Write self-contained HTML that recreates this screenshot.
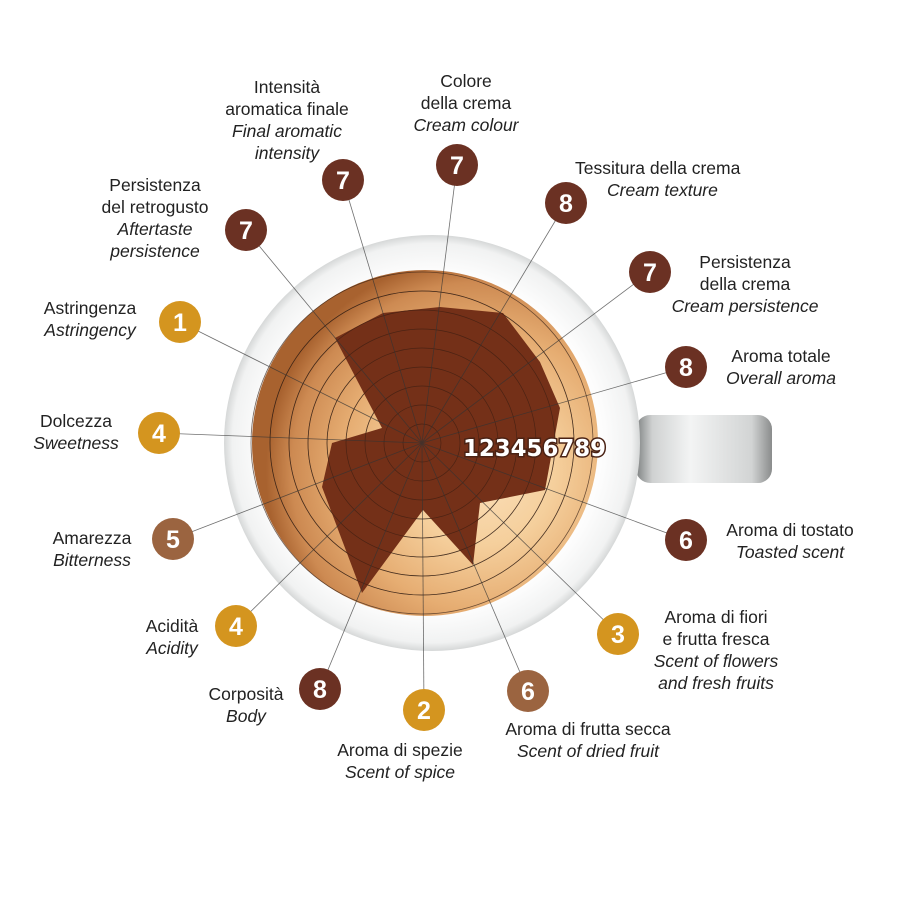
<!DOCTYPE html>
<html><head><meta charset="utf-8"><style>
body{margin:0;background:#fff;}
#w{position:relative;width:900px;height:900px;overflow:hidden;font-family:"Liberation Sans",sans-serif;color:#222;}
.t{position:absolute;font-size:17.5px;line-height:22px;text-align:center;white-space:nowrap;}
.t i{display:block;}
.l{text-align:left}.r{text-align:right}
</style></head><body><div id="w">
<svg width="900" height="900" style="position:absolute;left:0;top:0">
<defs>
<radialGradient id="cup" cx="0.5" cy="0.5" r="0.5">
<stop offset="0.82" stop-color="#fdfdfd"/><stop offset="0.96" stop-color="#f1f2f2"/><stop offset="1" stop-color="#d6d8d8"/>
</radialGradient>
<radialGradient id="cof" cx="0.66" cy="0.58" r="0.62">
<stop offset="0" stop-color="#fbe0bb"/><stop offset="0.35" stop-color="#f5cf9c"/><stop offset="0.65" stop-color="#e6ad72"/><stop offset="0.88" stop-color="#cd8a52"/><stop offset="1" stop-color="#a8622f"/>
</radialGradient>
<linearGradient id="hd" x1="0" y1="0" x2="1" y2="0">
<stop offset="0" stop-color="#7e8181"/><stop offset="0.12" stop-color="#cfd1d1"/><stop offset="0.4" stop-color="#f3f4f4"/><stop offset="0.85" stop-color="#d2d4d4"/><stop offset="1" stop-color="#8a8c8c"/>
</linearGradient>
</defs>
<rect x="636" y="415" width="136" height="68" rx="14" fill="url(#hd)"/>
<circle cx="432" cy="443" r="208" fill="url(#cup)"/>
<circle cx="425" cy="443" r="173" fill="url(#cof)"/>
<g fill="none" stroke="#3a2418" stroke-width="0.8" opacity="0.7">
<circle cx="422" cy="443" r="19"/><circle cx="422" cy="443" r="38"/><circle cx="422" cy="443" r="57"/><circle cx="422" cy="443" r="76"/><circle cx="422" cy="443" r="95"/><circle cx="422" cy="443" r="114"/><circle cx="422" cy="443" r="133"/><circle cx="422" cy="443" r="152"/><circle cx="422" cy="443" r="171"/>
</g>
<polygon points="383,313 440,307 503,313 540,362 560,408 545,490 480,503 473,565 423,510 362,593 322,487 332,443 382,428 335,338" fill="#743018"/>
<g fill="none" stroke="#2a1810" stroke-width="0.7" opacity="0.55">
<circle cx="422" cy="443" r="19"/><circle cx="422" cy="443" r="38"/><circle cx="422" cy="443" r="57"/><circle cx="422" cy="443" r="76"/><circle cx="422" cy="443" r="95"/><circle cx="422" cy="443" r="114"/><circle cx="422" cy="443" r="133"/><circle cx="422" cy="443" r="152"/>
</g>
<g stroke="#333" stroke-width="0.8" opacity="0.7">
<line x1="422" y1="443" x2="343" y2="180"/>
<line x1="422" y1="443" x2="457" y2="165"/>
<line x1="422" y1="443" x2="566" y2="203"/>
<line x1="422" y1="443" x2="650" y2="272"/>
<line x1="422" y1="443" x2="686" y2="367"/>
<line x1="422" y1="443" x2="686" y2="540"/>
<line x1="422" y1="443" x2="618" y2="634"/>
<line x1="422" y1="443" x2="528" y2="691"/>
<line x1="422" y1="443" x2="424" y2="710"/>
<line x1="422" y1="443" x2="320" y2="689"/>
<line x1="422" y1="443" x2="236" y2="626"/>
<line x1="422" y1="443" x2="173" y2="539"/>
<line x1="422" y1="443" x2="159" y2="433"/>
<line x1="422" y1="443" x2="180" y2="322"/>
<line x1="422" y1="443" x2="246" y2="230"/>
</g>
<text x="463" y="456" font-family="DejaVu Sans" font-size="23" font-weight="bold" fill="#fff" stroke="#4a2214" stroke-width="3" paint-order="stroke" textLength="143" lengthAdjust="spacingAndGlyphs">123456789</text>
<g font-family="Liberation Sans" font-size="25" font-weight="bold" fill="#fff" text-anchor="middle">
<circle cx="343" cy="180" r="21" fill="#6b3123"/><text x="343" y="189">7</text>
<circle cx="457" cy="165" r="21" fill="#6b3123"/><text x="457" y="174">7</text>
<circle cx="566" cy="203" r="21" fill="#6b3123"/><text x="566" y="212">8</text>
<circle cx="650" cy="272" r="21" fill="#6b3123"/><text x="650" y="281">7</text>
<circle cx="686" cy="367" r="21" fill="#6b3123"/><text x="686" y="376">8</text>
<circle cx="686" cy="540" r="21" fill="#6b3123"/><text x="686" y="549">6</text>
<circle cx="618" cy="634" r="21" fill="#d4951f"/><text x="618" y="643">3</text>
<circle cx="528" cy="691" r="21" fill="#9b6440"/><text x="528" y="700">6</text>
<circle cx="424" cy="710" r="21" fill="#d4951f"/><text x="424" y="719">2</text>
<circle cx="320" cy="689" r="21" fill="#6b3123"/><text x="320" y="698">8</text>
<circle cx="236" cy="626" r="21" fill="#d4951f"/><text x="236" y="635">4</text>
<circle cx="173" cy="539" r="21" fill="#9b6440"/><text x="173" y="548">5</text>
<circle cx="159" cy="433" r="21" fill="#d4951f"/><text x="159" y="442">4</text>
<circle cx="180" cy="322" r="21" fill="#d4951f"/><text x="180" y="331">1</text>
<circle cx="246" cy="230" r="21" fill="#6b3123"/><text x="246" y="239">7</text>
</g>
</svg>
<div class="t" style="left:222px;top:76px;width:130px">Intensità<br>aromatica finale<i>Final aromatic<br>intensity</i></div>
<div class="t" style="left:400px;top:70px;width:132px">Colore<br>della crema<i>Cream colour</i></div>
<div class="t l" style="left:575px;top:157px">Tessitura della crema<i style="padding-left:32px">Cream texture</i></div>
<div class="t" style="left:660px;top:251px;width:170px">Persistenza<br>della crema<i>Cream persistence</i></div>
<div class="t" style="left:716px;top:345px;width:130px">Aroma totale<i>Overall aroma</i></div>
<div class="t" style="left:712px;top:519px;width:156px">Aroma di tostato<i>Toasted scent</i></div>
<div class="t" style="left:642px;top:606px;width:148px">Aroma di fiori<br>e frutta fresca<i>Scent of flowers<br>and fresh fruits</i></div>
<div class="t" style="left:490px;top:718px;width:196px">Aroma di frutta secca<i>Scent of dried fruit</i></div>
<div class="t" style="left:322px;top:739px;width:156px">Aroma di spezie<i>Scent of spice</i></div>
<div class="t" style="left:196px;top:683px;width:100px">Corposità<i>Body</i></div>
<div class="t" style="left:130px;top:615px;width:84px">Acidità<i>Acidity</i></div>
<div class="t" style="left:40px;top:527px;width:104px">Amarezza<i>Bitterness</i></div>
<div class="t" style="left:20px;top:410px;width:112px">Dolcezza<i>Sweetness</i></div>
<div class="t" style="left:30px;top:297px;width:120px">Astringenza<i>Astringency</i></div>
<div class="t" style="left:90px;top:174px;width:130px">Persistenza<br>del retrogusto<i>Aftertaste<br>persistence</i></div>
</div></body></html>
